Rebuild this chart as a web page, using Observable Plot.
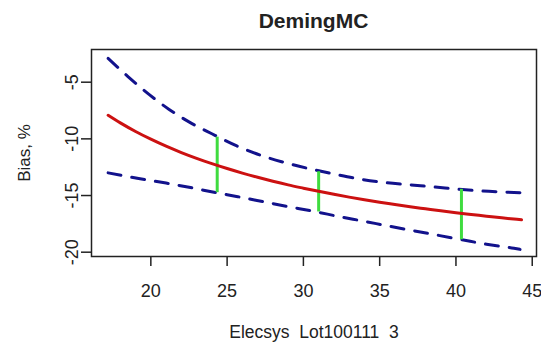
<!DOCTYPE html>
<html>
<head>
<meta charset="utf-8">
<script src="https://cdn.jsdelivr.net/npm/d3@7"></script>
<script src="https://cdn.jsdelivr.net/npm/@observablehq/plot@0.6"></script>
<style>
  body { margin: 0; background: #fff; font-family: "Liberation Sans", Arial, sans-serif; }
  #title { height: 40px; width: 541px; box-sizing: border-box; padding-left: 91px; padding-right: 5px;
           text-align: center; font-weight: bold; font-size: 21px; line-height: 42px; color: #222; overflow: visible; }
</style>
</head>
<body>
<div id="title">DemingMC</div>
<div id="chart"></div>
<script>
// ---- data ----
const fitX = [17.2, 18, 19, 20, 21, 22, 23, 24, 25, 26, 27, 28, 29, 30, 31, 32, 33, 34, 35, 36, 37, 38, 39, 40, 41, 42, 43, 44, 44.3];
const fitY = [-7.92, -8.59, -9.35, -10.03, -10.65, -11.21, -11.72, -12.19, -12.62, -13.02, -13.39, -13.74, -14.06, -14.35, -14.63, -14.89, -15.14, -15.37, -15.59, -15.79, -15.99, -16.17, -16.35, -16.52, -16.67, -16.82, -16.97, -17.10, -17.14];

const upperX = [17.2, 18.5, 19.9, 21.2, 22.5, 24.0, 25.6, 27.2, 28.8, 30.6, 32.0, 33.7, 35.3, 36.9, 38.6, 40.2, 41.7, 43.3, 44.2];
const upperY = [-2.9, -4.5, -6.1, -7.4, -8.5, -9.55, -10.6, -11.45, -12.1, -12.7, -13.1, -13.55, -13.85, -14.05, -14.25, -14.45, -14.6, -14.7, -14.75];

const lowerX = [17.2, 19.2, 21.0, 22.6, 24.3, 25.7, 27.4, 28.9, 30.7, 32.5, 33.9, 35.6, 37.2, 38.8, 40.4, 42.0, 43.8, 44.2];
const lowerY = [-13.0, -13.5, -13.9, -14.3, -14.75, -15.1, -15.55, -15.95, -16.4, -16.9, -17.25, -17.7, -18.1, -18.5, -18.9, -19.3, -19.65, -19.75];

const checkX = [24.35, 31.0, 40.36];
const checkLow = [-14.75, -16.45, -18.9];
const checkHigh = [-9.85, -12.9, -14.45];

const xTicks = [20, 25, 30, 35, 40, 45];
const yTicks = [-20, -15, -10, -5];

const titleText = "DemingMC";
const xLabel = "Elecsys\u00a0 Lot100111\u00a0 3";
const yLabel = "Bias, %";

// ---- tables ----
const fit = fitX.map((x, i) => ({x, y: fitY[i]}));
const upper = upperX.map((x, i) => ({x, y: upperY[i]}));
const lower = lowerX.map((x, i) => ({x, y: lowerY[i]}));
const checks = checkX.map((x, i) => ({x, y1: checkLow[i], y2: checkHigh[i]}));

document.getElementById("title").textContent = titleText;

const ink = "#222";
const chart = Plot.plot({
  width: 541,
  height: 303,
  marginTop: 9,
  marginBottom: 87,
  marginLeft: 91,
  marginRight: 5,
  style: {fontFamily: "'Liberation Sans', Arial, sans-serif", background: "#fff", color: ink},
  x: {domain: [16.11, 45.28]},
  y: {domain: [-20.38, -2.115]},
  marks: [
    Plot.line(upper, {x: "x", y: "y", stroke: "#12128c", strokeWidth: 3, strokeDasharray: "13,11", curve: "monotone-x"}),
    Plot.line(lower, {x: "x", y: "y", stroke: "#12128c", strokeWidth: 3, strokeDasharray: "13,11", curve: "monotone-x"}),
    Plot.ruleX(checks, {x: "x", y1: "y1", y2: "y2", stroke: "#3fdc3f", strokeWidth: 3}),
    Plot.line(fit, {x: "x", y: "y", stroke: "#cc1111", strokeWidth: 3, curve: "monotone-x"}),
    Plot.frame({stroke: ink, strokeWidth: 1.5}),
    Plot.axisX({ticks: xTicks, tickSize: 10, tickPadding: 18, fontSize: 18, strokeWidth: 1.5, label: null, tickFormat: d => String(d)}),
    Plot.axisY({ticks: yTicks, tickSize: 10, tickPadding: 4, tickRotate: -90, fontSize: 18, strokeWidth: 1.5, label: null, tickFormat: d => String(d)}),
    Plot.text([xLabel], {text: d => d, frameAnchor: "bottom", lineAnchor: "middle", textAnchor: "middle", dy: 76, fontSize: 17.5, fill: ink}),
    Plot.text([yLabel], {text: d => d, frameAnchor: "left", lineAnchor: "middle", textAnchor: "middle", rotate: -90, dx: -67, fontSize: 17, fill: ink})
  ]
});
document.getElementById("chart").appendChild(chart);
</script>
</body>
</html>
